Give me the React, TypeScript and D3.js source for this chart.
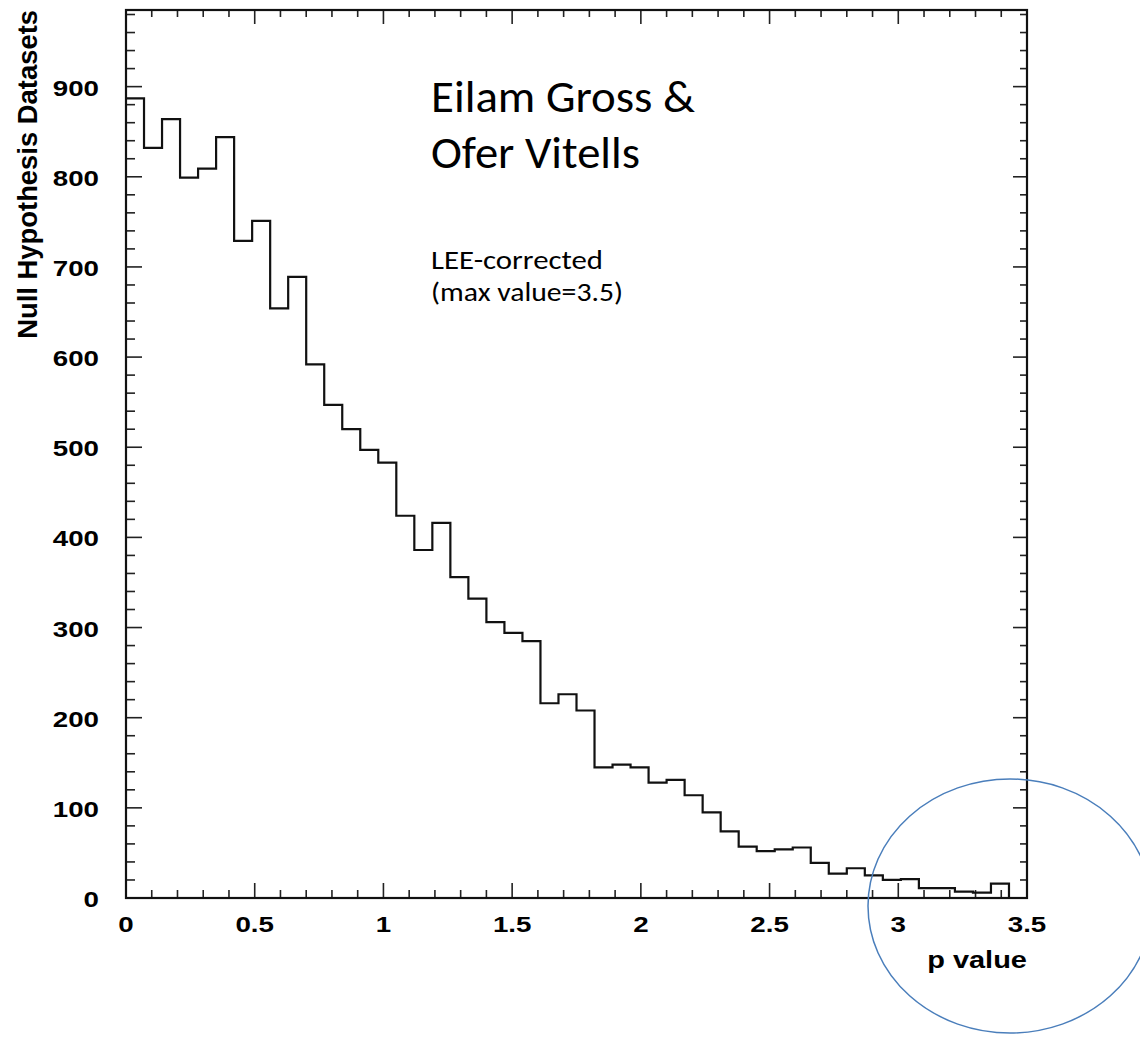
import React from "react";
import * as d3 from "d3";

const binWidth = 0.07;
const counts = [
  887, 832, 864, 799, 809, 844, 729, 751, 654, 689,
  592, 547, 520, 497, 483, 424, 386, 416, 356, 332,
  306, 294, 285, 216, 226, 208, 145, 148, 145, 128,
  131, 114, 95, 74, 57, 52, 54, 56, 39, 27,
  33, 25, 20, 21, 11, 11, 7, 6, 16, 0,
];
const xMajorTicks = [0, 0.5, 1, 1.5, 2, 2.5, 3, 3.5];
const xTickLabels = ["0", "0.5", "1", "1.5", "2", "2.5", "3", "3.5"];
const yMajorTicks = [0, 100, 200, 300, 400, 500, 600, 700, 800, 900];
const xDomain = [0, 3.5];
const yDomain = [0, 985];
const xTitle = "p value";
const yTitle = "Null Hypothesis Datasets";
const authorLines = ["Eilam Gross &", "Ofer Vitells"];
const noteLines = ["LEE-corrected", "(max value=3.5)"];

const W = 1140;
const H = 1038;
const L = 126, R = 1027, T = 10, B = 898;

export default function App() {
  const x = d3.scaleLinear().domain(xDomain).range([L, R]);
  const y = d3.scaleLinear().domain(yDomain).range([B, T]);

  const pts: [number, number][] = counts.map((c, i) => [i * binWidth, c]);
  pts.push([counts.length * binWidth, counts[counts.length - 1]]);
  const line = d3
    .line<[number, number]>()
    .x((d) => x(d[0]))
    .y((d) => y(d[1]))
    .curve(d3.curveStepAfter);

  const xMinor = d3.range(0, 36).map((i) => i * 0.1);
  const yMinor = d3.range(0, 50).map((i) => i * 20).filter((v) => v <= yDomain[1]);

  const tickColor = "#222";
  const axisFont = "'Liberation Sans', Arial, Helvetica, sans-serif";
  const textFont = "Calibri, Carlito, 'Open Sans', sans-serif";
  const sx = 1.26;

  const authorWidths = [264, 209];
  const noteWidths = [172, 192];

  return (
    <div style={{ position: "absolute", left: 0, top: 0 }}>
      <svg width={W} height={H} style={{ display: "block", background: "#fff" }}>
        {/* bottom & top ticks */}
        {xMinor.map((v, i) => {
          const major = Math.abs(v / 0.5 - Math.round(v / 0.5)) < 1e-6;
          const len = major ? 15 : 8;
          const tl = major ? 14 : 7;
          return (
            <g key={"xt" + i} stroke={tickColor} strokeWidth={1.6}>
              <line x1={x(v)} x2={x(v)} y1={B} y2={B - len} />
              <line x1={x(v)} x2={x(v)} y1={T} y2={T + tl} />
            </g>
          );
        })}
        {yMinor.map((v, i) => {
          const major = v % 100 === 0;
          const len = major ? 16 : 9;
          const rl = major ? 14 : 7;
          return (
            <g key={"yt" + i} stroke={tickColor} strokeWidth={1.6}>
              <line x1={L} x2={L + len} y1={y(v)} y2={y(v)} />
              <line x1={R} x2={R - rl} y1={y(v)} y2={y(v)} />
            </g>
          );
        })}
        {/* histogram */}
        <path d={line(pts) || ""} fill="none" stroke="#111" strokeWidth={2.2} />
        {/* frame */}
        <rect x={L} y={T} width={R - L} height={B - T} fill="none" stroke="#111" strokeWidth={2.2} />
        {/* tick labels */}
        {xMajorTicks.map((v, i) => (
          <text
            key={"xl" + i}
            transform={`translate(${x(v)}, 932) scale(${sx}, 1)`}
            textAnchor="middle"
            fontFamily={axisFont}
            fontWeight="bold"
            fontSize={22}
            fill="#000"
          >
            {xTickLabels[i]}
          </text>
        ))}
        {yMajorTicks.map((v, i) => (
          <text
            key={"yl" + i}
            transform={`translate(99, ${y(v) + 9}) scale(${sx}, 1)`}
            textAnchor="end"
            fontFamily={axisFont}
            fontWeight="bold"
            fontSize={22}
            fill="#000"
          >
            {v}
          </text>
        ))}
        {/* axis titles */}
        <text
          transform={`translate(${R}, 968) scale(${sx}, 1)`}
          textAnchor="end"
          fontFamily={axisFont}
          fontWeight="bold"
          fontSize={23}
          fill="#000"
        >
          {xTitle}
        </text>
        <text
          transform={`translate(37, ${T}) rotate(-90)`}
          textAnchor="end"
          fontFamily={axisFont}
          fontWeight="bold"
          fontSize={27.4}
          fill="#000"
        >
          {yTitle}
        </text>
        {/* annotations */}
        {authorLines.map((s, i) => (
          <text
            key={"a" + i}
            x={431}
            y={112 + i * 56}
            fontFamily={textFont}
            fontSize={45}
            textLength={authorWidths[i]}
            lengthAdjust="spacingAndGlyphs"
            fill="#000"
          >
            {s}
          </text>
        ))}
        {noteLines.map((s, i) => (
          <text
            key={"n" + i}
            x={431}
            y={269 + i * 32}
            fontFamily={textFont}
            fontSize={26}
            textLength={noteWidths[i]}
            lengthAdjust="spacingAndGlyphs"
            fill="#000"
          >
            {s}
          </text>
        ))}
        {/* highlight ellipse */}
        <ellipse cx={1010} cy={906} rx={142} ry={127} fill="none" stroke="#4a7ebb" strokeWidth={1.5} />
      </svg>
    </div>
  );
}
